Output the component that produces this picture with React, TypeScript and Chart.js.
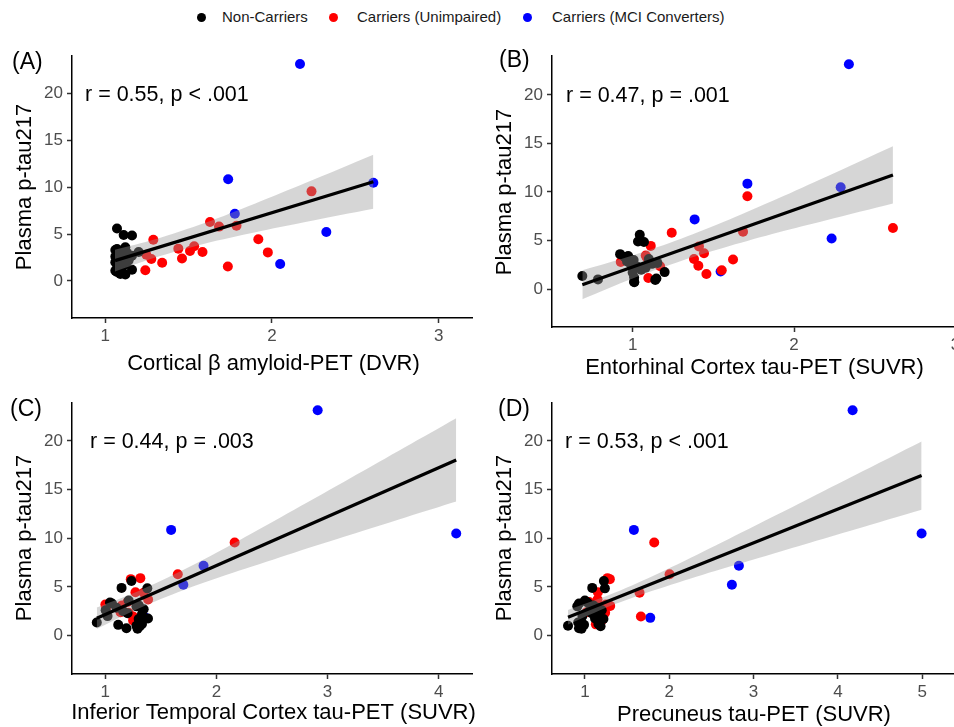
import React, { useEffect, useRef } from "react";
import Chart from "chart.js/auto";

const FONT = "'Liberation Sans', Arial, Helvetica, sans-serif";

// Shared y values (Plasma p-tau217) per group
const yNonCarriers = [5.6, 4.9, 4.85, 3.6, 3.4, 3.3, 3.1, 3.0, 2.85, 2.7, 2.6, 2.5, 2.3, 2.2, 2.0, 1.75, 1.7, 1.35, 1.2, 1.1, 1.0, 0.95, 0.75, 0.7];
const yUnimpaired = [9.56, 6.3, 5.9, 5.8, 4.45, 4.4, 3.7, 3.45, 3.2, 3.1, 3.05, 2.8, 2.4, 2.35, 1.95, 1.55, 1.15];
const yConverters = [23.15, 10.86, 10.48, 7.18, 5.22, 1.82];

// (A) Cortical amyloid DVR
const xA_Non = [1.07, 1.11, 1.16, 1.12, 1.07, 1.06, 1.2, 1.13, 1.09, 1.16, 1.06, 1.1, 1.08, 1.14, 1.06, 1.12, 1.09, 1.07, 1.16, 1.06, 1.1, 1.07, 1.09, 1.12];
const xA_Unimp = [2.237, 1.628, 1.787, 1.682, 1.918, 1.288, 1.533, 1.438, 1.508, 1.583, 1.975, 1.246, 1.46, 1.276, 1.341, 1.735, 1.24];
const xA_Conv = [2.168, 1.737, 2.608, 1.777, 2.326, 2.049];
// (B) Entorhinal
const xB_Non = [1.044, 1.033, 1.07, 0.922, 0.972, 0.95, 1.1, 1.006, 0.965, 1.153, 1.12, 0.99, 1.03, 1.08, 1.053, 1.198, 1.0, 0.688, 1.009, 1.147, 0.785, 1.14, 1.009, 1.01];
const xB_Unimp = [1.711, 2.613, 1.684, 1.242, 1.112, 1.411, 1.442, 1.081, 1.09, 1.38, 1.622, 0.926, 1.407, 1.17, 1.552, 1.457, 1.097];
const xB_Conv = [2.34, 1.711, 2.289, 1.384, 2.233, 1.545];
// (C) Inferior temporal
const xC_Non = [1.235, 1.146, 1.378, 1.21, 1.042, 1.06, 1.3, 1.28, 1.1, 1.345, 1.003, 1.16, 1.2, 1.33, 1.02, 1.384, 1.3, 0.923, 1.33, 1.116, 1.28, 1.31, 1.19, 1.29];
const xC_Unimp = [2.164, 1.652, 1.315, 1.229, 1.271, 1.345, 1.385, 1.2, 1.0, 1.15, 1.3, 1.006, 1.137, 1.21, 1.25, 1.25, 1.3];
const xC_Conv = [2.911, 1.592, 4.158, 1.884, 1.702, 1.363];
// (D) Precuneus
const xD_Non = [1.225, 1.087, 1.237, 1.0, 1.03, 0.93, 1.1, 0.91, 1.15, 1.126, 1.2, 1.05, 1.08, 1.17, 0.97, 1.12, 1.22, 0.92, 1.16, 0.99, 0.8, 1.186, 0.93, 0.96];
const xD_Unimp = [1.822, 2.004, 1.268, 1.296, 1.154, 1.648, 1.15, 1.05, 1.25, 1.28, 1.3, 1.1, 1.02, 1.24, 1.664, 1.2, 1.13];
const xD_Conv = [4.174, 1.581, 4.992, 2.826, 2.743, 1.775];

// Fitted lines (endpoints)
const lineA = [[1.058, 2.17], [2.608, 10.59]];
const lineB = [[0.688, 0.45], [2.613, 11.76]];
const lineC = [[0.923, 1.78], [4.158, 18.05]];
const lineD = [[0.8, 1.88], [4.992, 16.44]];

// Confidence bands
const bandA_x = [1.058, 1.3, 1.6, 1.9, 2.2, 2.608];
const bandA_lo = [1.02, 2.51, 4.01, 5.21, 6.3, 7.71];
const bandA_hi = [3.32, 4.45, 6.21, 8.27, 10.44, 13.47];
const bandB_x = [0.688, 1.0, 1.3, 1.6, 1.9, 2.2, 2.613];
const bandB_lo = [-1.05, 1.09, 2.89, 4.43, 5.82, 7.09, 8.81];
const bandB_hi = [1.95, 3.47, 5.19, 7.17, 9.32, 11.57, 14.71];
const bandC_x = [0.923, 1.3, 1.7, 2.2, 2.7, 3.2, 3.7, 4.158];
const bandC_lo = [0.68, 2.78, 4.65, 6.65, 8.52, 10.33, 12.13, 13.77];
const bandC_hi = [2.88, 4.58, 6.73, 9.75, 12.92, 16.13, 19.37, 22.33];
const bandD_x = [0.8, 1.3, 1.8, 2.4, 3.0, 3.6, 4.2, 4.992];
const bandD_lo = [1.13, 3.03, 4.6, 6.26, 7.82, 9.37, 10.91, 12.94];
const bandD_hi = [2.63, 4.21, 6.1, 8.62, 11.22, 13.83, 16.47, 19.94];

const yTicks = [0, 5, 10, 15, 20];
const xTicksA = [1, 2, 3];
const xTicksB = [1, 2, 3];
const xTicksC = [1, 2, 3, 4];
const xTicksD = [1, 2, 3, 4, 5];

const legendLabels = ["Non-Carriers", "Carriers (Unimpaired)", "Carriers (MCI Converters)"];
const groupColors = ["#000000", "#FF0000", "#0000FF"];
const yAxisTitle = "Plasma p-tau217";

type PanelDef = {
  left: number; top: number; width: number; height: number;
  axL: number; axT: number; axR: number; axB: number;
  xMin: number; xMax: number; yMin: number; yMax: number;
  xTicks: number[];
  xs: number[][];
  line: number[][];
  bx: number[]; blo: number[]; bhi: number[];
  label: string; labelPos: [number, number];
  stat: string; statPos: [number, number];
  xTitle: string; xTitlePos: [number, number];
  yTitlePos: [number, number];
};

const panels: PanelDef[] = [
  {
    left: 0, top: 40, width: 477, height: 345, axL: 72, axT: 56, axR: 475, axB: 318,
    xMin: 0.8, xMax: 3.2, yMin: -3.95, yMax: 24.0, xTicks: xTicksA,
    xs: [xA_Non, xA_Unimp, xA_Conv], line: lineA, bx: bandA_x, blo: bandA_lo, bhi: bandA_hi,
    label: "(A)", labelPos: [12, 63], stat: "r = 0.55, p < .001", statPos: [85, 95],
    xTitle: "Cortical \u03B2 amyloid-PET (DVR)", xTitlePos: [273.5, 364], yTitlePos: [25, 187],
  },
  {
    left: 477, top: 40, width: 495, height: 345, axL: 552, axT: 56, axR: 957, axB: 327,
    xMin: 0.5, xMax: 3.01, yMin: -3.9, yMax: 24.0, xTicks: xTicksB,
    xs: [xB_Non, xB_Unimp, xB_Conv], line: lineB, bx: bandB_x, blo: bandB_lo, bhi: bandB_hi,
    label: "(B)", labelPos: [499, 61], stat: "r = 0.47, p = .001", statPos: [566, 96],
    xTitle: "Entorhinal Cortex tau-PET (SUVR)", xTitlePos: [754.5, 368], yTitlePos: [505, 192],
  },
  {
    left: 0, top: 385, width: 477, height: 342, axL: 72, axT: 403, axR: 475, axB: 674,
    xMin: 0.7, xMax: 4.3, yMin: -3.95, yMax: 23.9, xTicks: xTicksC,
    xs: [xC_Non, xC_Unimp, xC_Conv], line: lineC, bx: bandC_x, blo: bandC_lo, bhi: bandC_hi,
    label: "(C)", labelPos: [10, 410], stat: "r = 0.44, p = .003", statPos: [90, 442],
    xTitle: "Inferior Temporal Cortex tau-PET (SUVR)", xTitlePos: [273.5, 713], yTitlePos: [25, 538],
  },
  {
    left: 477, top: 385, width: 490, height: 342, axL: 552, axT: 403, axR: 956, axB: 674,
    xMin: 0.61, xMax: 5.4, yMin: -3.95, yMax: 23.9, xTicks: xTicksD,
    xs: [xD_Non, xD_Unimp, xD_Conv], line: lineD, bx: bandD_x, blo: bandD_lo, bhi: bandD_hi,
    label: "(D)", labelPos: [498, 410], stat: "r = 0.53, p < .001", statPos: [565, 442],
    xTitle: "Precuneus tau-PET (SUVR)", xTitlePos: [754, 715], yTitlePos: [505, 538],
  },
];

const groupYs = [yNonCarriers, yUnimpaired, yConverters];

function Panel({ p }: { p: PanelDef }) {
  const ref = useRef<HTMLCanvasElement | null>(null);
  useEffect(() => {
    if (!ref.current) return;
    const textPlugin = {
      id: "panelText",
      afterDraw(chart: any) {
        const ctx = chart.ctx as CanvasRenderingContext2D;
        ctx.save();
        ctx.fillStyle = "#000";
        ctx.textBaseline = "middle";
        ctx.textAlign = "left";
        ctx.font = `23px ${FONT}`;
        ctx.fillText(p.label, p.labelPos[0] - p.left, p.labelPos[1] - p.top);
        ctx.font = `21.5px ${FONT}`;
        ctx.fillText(p.stat, p.statPos[0] - p.left, p.statPos[1] - p.top);
        ctx.font = `22px ${FONT}`;
        ctx.textAlign = "center";
        ctx.fillText(p.xTitle, p.xTitlePos[0] - p.left, p.xTitlePos[1] - p.top);
        ctx.translate(p.yTitlePos[0] - p.left, p.yTitlePos[1] - p.top);
        ctx.rotate(-Math.PI / 2);
        ctx.fillText(yAxisTitle, 0, 0);
        ctx.restore();
      },
    };
    const scatterSets = p.xs.map((xs, g) => ({
      type: "scatter" as const,
      label: legendLabels[g],
      data: xs.map((x, i) => ({ x, y: groupYs[g][i] })),
      pointRadius: 5,
      pointHoverRadius: 5,
      pointBackgroundColor: groupColors[g],
      pointBorderColor: groupColors[g],
      pointBorderWidth: 0,
      order: 3 + g,
    }));
    const axisCommon = {
      type: "linear" as const,
      border: { display: true, color: "#000", width: 1.5 },
      grid: { display: true, drawOnChartArea: false, drawTicks: true, tickLength: 5, tickColor: "#333", tickWidth: 1.5, color: "#333" },
    };
    const chart = new Chart(ref.current, {
      type: "scatter",
      data: {
        datasets: [
          {
            type: "line",
            data: p.line.map(([x, y]) => ({ x, y })),
            borderColor: "#000",
            borderWidth: 3.2,
            pointRadius: 0,
            fill: false,
            order: 0,
          } as any,
          {
            type: "line",
            data: p.bx.map((x, i) => ({ x, y: p.bhi[i] })),
            borderColor: "rgba(0,0,0,0)",
            borderWidth: 1,
            pointRadius: 0,
            backgroundColor: "rgba(153,153,153,0.4)",
            fill: "+1",
            tension: 0.3,
            order: 1,
          } as any,
          {
            type: "line",
            data: p.bx.map((x, i) => ({ x, y: p.blo[i] })),
            borderColor: "rgba(0,0,0,0)",
            borderWidth: 1,
            pointRadius: 0,
            fill: false,
            tension: 0.3,
            order: 2,
          } as any,
          ...scatterSets,
        ],
      },
      options: {
        responsive: false,
        animation: false,
        devicePixelRatio: 1,
        events: [],
        layout: { padding: { top: p.axT - p.top, right: p.left + p.width - p.axR, left: 0, bottom: 0 } },
        plugins: { legend: { display: false }, tooltip: { enabled: false } },
        scales: {
          x: {
            ...axisCommon,
            min: p.xMin,
            max: p.xMax,
            afterBuildTicks: (s: any) => { s.ticks = p.xTicks.map((v) => ({ value: v })); },
            afterFit: (s: any) => { s.height = p.top + p.height - p.axB; },
            ticks: { autoSkip: false, maxRotation: 0, padding: 3, color: "#4D4D4D", font: { size: 17, family: FONT }, callback: (v: any) => `${v}` },
          },
          y: {
            ...axisCommon,
            min: p.yMin,
            max: p.yMax,
            afterBuildTicks: (s: any) => { s.ticks = yTicks.map((v) => ({ value: v })); },
            afterFit: (s: any) => { s.width = p.axL - p.left; },
            ticks: { autoSkip: false, padding: 4, color: "#4D4D4D", font: { size: 17, family: FONT }, callback: (v: any) => `${v}` },
          },
        },
      } as any,
      plugins: [textPlugin],
    });
    return () => chart.destroy();
  }, [p]);
  return (
    <canvas
      ref={ref}
      width={p.width}
      height={p.height}
      style={{ position: "absolute", left: p.left, top: p.top, width: p.width, height: p.height }}
    />
  );
}

const legendDotX = [201, 333, 527];
const legendTextX = [222, 357, 552];

export default function App() {
  return (
    <div style={{ position: "fixed", left: 0, top: 0, width: 954, height: 727, overflow: "hidden", background: "#fff", fontFamily: FONT }}>
      {legendLabels.map((l, i) => (
        <React.Fragment key={l}>
          <div style={{ position: "absolute", left: legendDotX[i] - 4.5, top: 17 - 4.5, width: 9, height: 9, borderRadius: "50%", background: groupColors[i] }} />
          <div style={{ position: "absolute", left: legendTextX[i], top: 7, height: 20, lineHeight: "20px", fontSize: 15, color: "#1a1a1a", whiteSpace: "nowrap" }}>{l}</div>
        </React.Fragment>
      ))}
      {panels.map((p, i) => (
        <Panel key={i} p={p} />
      ))}
    </div>
  );
}
